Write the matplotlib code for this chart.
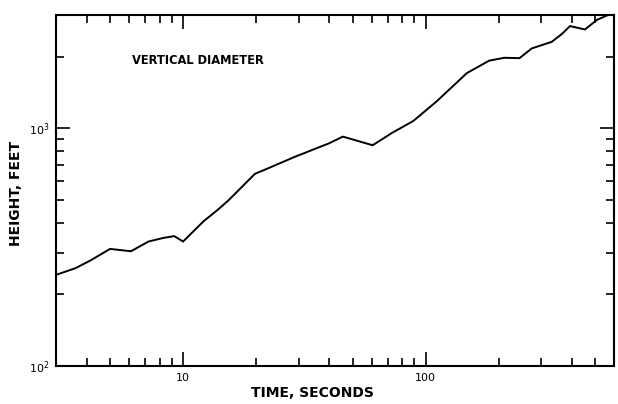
import matplotlib
matplotlib.use("Agg")
import matplotlib.pyplot as plt
from matplotlib.ticker import LogLocator, NullFormatter, FixedLocator, FixedFormatter

# Data (time in seconds, height in feet)
time_s = [3.0, 3.6, 4.15, 5.0, 6.1, 7.2, 8.3, 9.2, 10.0, 12.2, 14.0, 15.4,
          19.8, 21.6, 29, 40, 45.6, 60.5, 73, 89, 111, 148, 183, 211, 244,
          274, 331, 365, 394, 454, 510, 577]
height_ft = [242, 258, 278, 311, 304, 334, 346, 352, 334, 408, 457, 498,
             644, 668, 760, 865, 923, 849, 959, 1074, 1298, 1708, 1927, 1981,
             1974, 2169, 2311, 2496, 2693, 2606, 2864, 3025]

x_major = [10, 100]
x_major_labels = ["10", "100"]
y_major = [100, 1000]
y_major_labels = ["$10^2$", "$10^3$"]

fig = plt.figure(figsize=(6.18, 4.04), dpi=100)
ax = fig.add_axes([0.091, 0.094, 0.903, 0.869])

ax.plot(time_s, height_ft, color="black", lw=1.4, solid_joinstyle="miter")
ax.set_xscale("log")
ax.set_yscale("log")
ax.set_xlim(3, 600)
ax.set_ylim(100, 3000)

ax.xaxis.set_major_locator(FixedLocator(x_major))
ax.xaxis.set_major_formatter(FixedFormatter(x_major_labels))
ax.yaxis.set_major_locator(FixedLocator(y_major))
ax.yaxis.set_major_formatter(FixedFormatter(y_major_labels))
ax.xaxis.set_minor_locator(LogLocator(base=10, subs=range(2, 10)))
ax.yaxis.set_minor_locator(LogLocator(base=10, subs=range(2, 10)))
ax.xaxis.set_minor_formatter(NullFormatter())
ax.yaxis.set_minor_formatter(NullFormatter())

ax.tick_params(which="both", direction="in", top=True, right=True,
               colors="black", width=1.2, labelsize=8)
ax.tick_params(which="major", length=10, pad=5)
ax.tick_params(which="minor", length=6)
for s in ax.spines.values():
    s.set_linewidth(1.5)

fig.text(0.505, 0.028, "TIME, SECONDS", fontsize=10, fontweight="bold",
         ha="center", va="center")
fig.text(0.026, 0.52, "HEIGHT, FEET", fontsize=10, fontweight="bold",
         ha="center", va="center", rotation=90)
ax.text(0.135, 0.87, "VERTICAL DIAMETER", transform=ax.transAxes,
        fontsize=8.3, fontweight="bold", ha="left", va="center")

fig.savefig("out.png", dpi=100, facecolor="white")
